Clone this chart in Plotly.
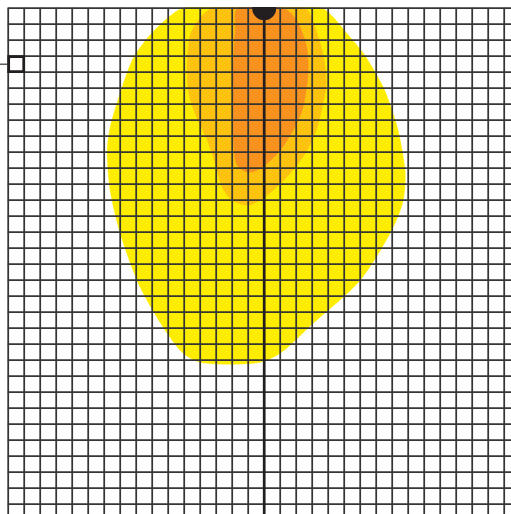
import plotly.graph_objects as go

# ---- data (grid-cell units: u to the right, v downward from the top edge) ----
yellow_u = [10.94, 9.81, 8.75, 7.81, 7.0, 6.375, 6.19, 6.375, 7.0, 8.25, 9.94, 10.94, 12.0,
            15.75, 17.0, 19.06, 22.0, 24.06, 24.69, 24.81, 24.5, 24.19, 23.44, 22.19, 21.1, 20.3, 19.6]
yellow_v = [0, 0.75, 1.81, 3.13, 5.31, 7.44, 8.875, 11.375, 14.06, 17.44, 20.31, 21.56, 22.125,
            22.125, 21.56, 19.69, 17.0, 13.69, 12.0, 10.31, 8.25, 7.0, 4.94, 2.81, 1.5, 0.55, 0]

light_u = [12.75, 11.875, 11.375, 11.19, 11.31, 11.81, 12.44, 12.94, 13.375, 14.0, 14.94, 15.75,
           16.56, 17.625, 18.69, 19.31, 19.625, 19.875, 19.69, 19.19, 18.56]
light_v = [0, 0.75, 1.69, 3.69, 5.44, 6.875, 8.25, 9.69, 11.19, 12.0, 12.31, 12.0,
           11.375, 10.31, 8.875, 7.44, 6.19, 4.69, 2.94, 1.25, 0]

orange_u = [14.31, 14.19, 14.06, 14.06, 14.125, 14.31, 14.94, 15.56, 16.19, 17.0, 17.81, 18.375,
            18.625, 18.75, 18.69, 18.44, 17.94, 17.19]
orange_v = [0, 1.375, 3.69, 6.375, 8.875, 9.81, 10.25, 10.125, 9.69, 8.875, 7.625, 6.375,
            5.125, 3.875, 2.625, 1.69, 0.625, 0]

axis_u = 16          # vertical reference line position
marker_u, marker_v = 0.5, 3.5   # small square marker cell centre
grid_u = list(range(0, 33))
grid_v = list(range(0, 33))

YELLOW = "#FFED00"
LIGHT = "#FEC30F"
ORANGE = "#F7921E"
DARK = "#231F20"
GRID = "#353535"

W, H = 511, 514
ML, MT = 7, 7
CELL = 16
OFF = 1.2   # px from plot edge to first grid line

fig = go.Figure()

for u, v, c in [(yellow_u, yellow_v, YELLOW), (light_u, light_v, LIGHT), (orange_u, orange_v, ORANGE)]:
    fig.add_trace(go.Scatter(x=u + [u[0]], y=v + [v[0]], mode="lines", fill="toself",
                             fillcolor=c, line=dict(color=c, width=0.5, shape="spline", smoothing=0.8),
                             hoverinfo="skip"))

gx, gy = [], []
for u in grid_u:
    gx += [u, u, None]
    gy += [grid_v[0] - 0.03, grid_v[-1], None]
for v in grid_v:
    gx += [grid_u[0] - 0.03, grid_u[-1], None]
    gy += [v, v, None]
fig.add_trace(go.Scatter(x=gx, y=gy, mode="lines", line=dict(color=GRID, width=1.75), hoverinfo="skip"))

fig.add_trace(go.Scatter(x=[axis_u, axis_u], y=[grid_v[0], grid_v[-1]], mode="lines",
                         line=dict(color=DARK, width=2.7), hoverinfo="skip"))
fig.add_trace(go.Scatter(x=[axis_u], y=[0], mode="markers",
                         marker=dict(symbol="circle", size=24, color=DARK, line=dict(width=0)),
                         hoverinfo="skip"))
fig.add_trace(go.Scatter(x=[marker_u], y=[marker_v], mode="markers", cliponaxis=False,
                         marker=dict(symbol="square", size=15, color="white",
                                     line=dict(color=DARK, width=2.7)),
                         hoverinfo="skip"))

plot_w = W - ML
plot_h = H - MT
x0 = -OFF / CELL
y0 = -OFF / CELL
xr = [x0, x0 + plot_w / CELL]
yr = [y0 + plot_h / CELL, y0]

# short lead line from the left page edge into the square
py = (marker_v - y0) * CELL
fig.add_shape(type="line", xref="paper", yref="paper",
              x0=-ML / plot_w, x1=(marker_u - 0.5 - x0) * CELL / plot_w,
              y0=1 - py / plot_h, y1=1 - py / plot_h,
              line=dict(color="#333333", width=1.2))

fig.update_layout(
    width=W, height=H,
    margin=dict(l=ML, t=MT, r=0, b=0, pad=0),
    paper_bgcolor="white", plot_bgcolor="white",
    showlegend=False,
    xaxis=dict(range=xr, visible=False, showgrid=False, zeroline=False, fixedrange=True),
    yaxis=dict(range=yr, visible=False, showgrid=False, zeroline=False, fixedrange=True),
)

fig.write_html("out.html", config={"displayModeBar": False},
               post_script="document.body.style.margin='0';document.body.style.overflow='hidden';")
